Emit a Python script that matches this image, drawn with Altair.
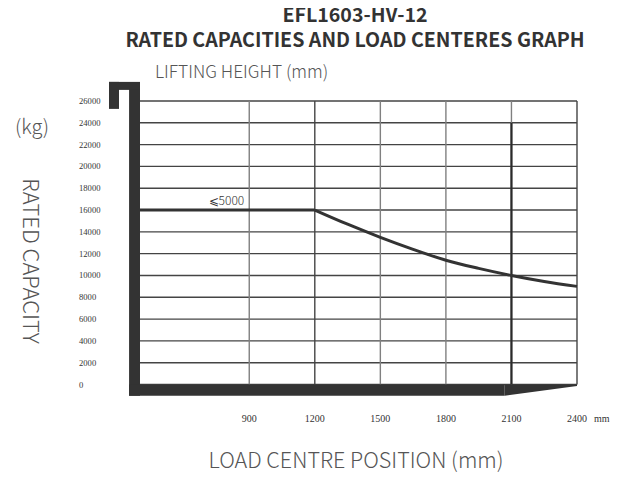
import altair as alt
import pandas as pd

# ---- data ----
flat_x = [400, 1200]
flat_y = [16000, 16000]
curve_x = [1200, 1350, 1500, 1650, 1800, 1950, 2100, 2250, 2400]
curve_y = [16000, 14700, 13500, 12400, 11400, 10650, 10000, 9450, 9000]

y_ticks = list(range(0, 26001, 2000))
x_ticks = [900, 1200, 1500, 1800, 2100, 2400]
x_light = [900, 1500, 1800]
x_dark = [1200, 2400]
x_bold = [2100]

title_lines = ["EFL1603-HV-12", "RATED CAPACITIES AND LOAD CENTERES GRAPH"]
height_label = "LIFTING HEIGHT (mm)"
curve_label = "⩽5000"

# fork outline pieces (mm, kg)
fork_rect_x = [350, 258, 258, 350]
fork_rect_x2 = [400, 400, 304, 2069]
fork_rect_y = [-1030, 27018, 25275, -1030]
fork_rect_y2 = [27752, 27752, 27752, 0]
tip_x = [2069, 2400]
tip_top = [0, 0]
tip_bottom = [-1030, -140]

X_DOM = [400, 2400]
Y_DOM = [0, 26000]
xs = alt.Scale(domain=X_DOM, nice=False, zero=False)
ys = alt.Scale(domain=Y_DOM, nice=False)

W, H = 437, 283.5

flat_df = pd.DataFrame({"x": flat_x, "y": flat_y})
curve_df = pd.DataFrame({"x": curve_x, "y": curve_y})
hgrid = pd.DataFrame({"y": y_ticks, "x": [X_DOM[0]] * len(y_ticks), "x2": [X_DOM[1]] * len(y_ticks)})
fork_df = pd.DataFrame({"x": fork_rect_x, "x2": fork_rect_x2, "y": fork_rect_y, "y2": fork_rect_y2})
tip_df = pd.DataFrame({"x": tip_x, "y": tip_top, "y2": tip_bottom})

FORK = "#333333"
SERIF = "Liberation Serif"
SANS = "Noto Sans CJK SC"


def vrules(vals, color, width, top=26000):
    df = pd.DataFrame({"x": vals, "y": [0] * len(vals), "y2": [top] * len(vals)})
    return alt.Chart(df).mark_rule(color=color, strokeWidth=width).encode(
        x=alt.X("x:Q", scale=xs, axis=None),
        y=alt.Y("y:Q", scale=ys, axis=None),
        y2="y2:Q",
    )


h_lines = alt.Chart(hgrid).mark_rule(color="#444444", strokeWidth=1.4).encode(
    x=alt.X("x:Q", scale=xs, axis=None),
    x2="x2:Q",
    y=alt.Y("y:Q", scale=ys, axis=None),
)

v_light = vrules(x_light, "#808080", 1.4)
v_dark = vrules(x_dark, "#444444", 1.4)
v_bold_bg = vrules(x_bold, "#808080", 1.4)
v_bold = vrules(x_bold, "#2a2a2a", 2.2, top=24000)

fork = alt.Chart(fork_df).mark_rect(color=FORK).encode(
    x=alt.X("x:Q", scale=xs, axis=None),
    x2="x2:Q",
    y=alt.Y("y:Q", scale=ys, axis=None),
    y2="y2:Q",
)

tip = alt.Chart(tip_df).mark_area(color=FORK, interpolate="linear").encode(
    x=alt.X("x:Q", scale=xs, axis=None),
    y=alt.Y("y:Q", scale=ys, axis=None),
    y2="y2:Q",
)

flat_line = alt.Chart(flat_df).mark_line(color="#333333", strokeWidth=3).encode(
    x=alt.X("x:Q", scale=xs, axis=None),
    y=alt.Y("y:Q", scale=ys, axis=None),
)

curve = alt.Chart(curve_df).mark_line(color="#333333", strokeWidth=3, interpolate="monotone").encode(
    x=alt.X("x:Q", scale=xs, axis=None),
    y=alt.Y("y:Q", scale=ys, axis=None),
)

curve_text = alt.Chart(pd.DataFrame({"x": [x_ticks[0]], "y": [flat_y[0]], "t": [curve_label]})).mark_text(
    align="right", baseline="bottom", dx=-5, dy=-2, font=SANS, fontSize=12, fontWeight=300, color="#333333"
).encode(
    x=alt.X("x:Q", scale=xs, axis=None),
    y=alt.Y("y:Q", scale=ys, axis=None),
    text="t:N",
)

ytick_df = pd.DataFrame({"y": y_ticks, "t": [str(v) for v in y_ticks]})
ytick_text = alt.Chart(ytick_df).mark_text(
    align="left", baseline="middle", font=SERIF, fontSize=8.6, color="#333333"
).encode(
    x=alt.value(-61),
    y=alt.Y("y:Q", scale=ys, axis=None),
    text="t:N",
)

xtick_df = pd.DataFrame({"x": x_ticks, "t": [str(v) for v in x_ticks]})
xtick_text = alt.Chart(xtick_df).mark_text(
    align="center", baseline="middle", font=SERIF, fontSize=10, color="#333333"
).encode(
    x=alt.X("x:Q", scale=xs, axis=None),
    y=alt.value(318),
    text="t:N",
)

mm_text = alt.Chart(pd.DataFrame({"x": [x_ticks[-1]], "t": ["mm"]})).mark_text(
    align="left", baseline="middle", dx=17, font=SERIF, fontSize=10, color="#333333"
).encode(
    x=alt.X("x:Q", scale=xs, axis=None),
    y=alt.value(318),
    text="t:N",
)


def label(txt, x, y, size, weight, color, align="center", angle=0):
    return alt.Chart(pd.DataFrame({"t": [txt]})).mark_text(
        align=align, baseline="middle", font=SANS, fontSize=size, fontWeight=weight,
        color=color, angle=angle
    ).encode(x=alt.value(x), y=alt.value(y), text="t:N")


title = alt.Chart(pd.DataFrame({"k": [0]})).mark_text(
    align="center", baseline="alphabetic", font=SANS, fontSize=19.6, fontWeight="bold",
    color="#333333", lineHeight=24.5
).encode(x=alt.value(215), y=alt.value(-79), text=alt.value(title_lines))

t3 = label(height_label, 15, -28, 17.4, 300, "#555555", align="left")
t4 = label("(kg)", -125, 27, 20, 300, "#555555", align="left")
t5 = label("RATED CAPACITY", -110, 160, 22, 300, "#555555", angle=90)
t6 = label("LOAD CENTRE POSITION (mm)", 216, 361, 21.5, 300, "#555555")

chart = alt.layer(
    h_lines, v_light, v_dark, v_bold_bg, v_bold, fork, tip, flat_line, curve, curve_text,
    ytick_text, xtick_text, mm_text, title, t3, t4, t5, t6
).properties(
    width=W,
    height=H,
    padding={"left": 132, "top": 93, "right": 33, "bottom": 88},
    autosize=alt.AutoSizeParams(type="none"),
    background="white",
).configure_view(stroke=None)

chart.save("out.html", embed_options={"renderer": "svg", "actions": False})
